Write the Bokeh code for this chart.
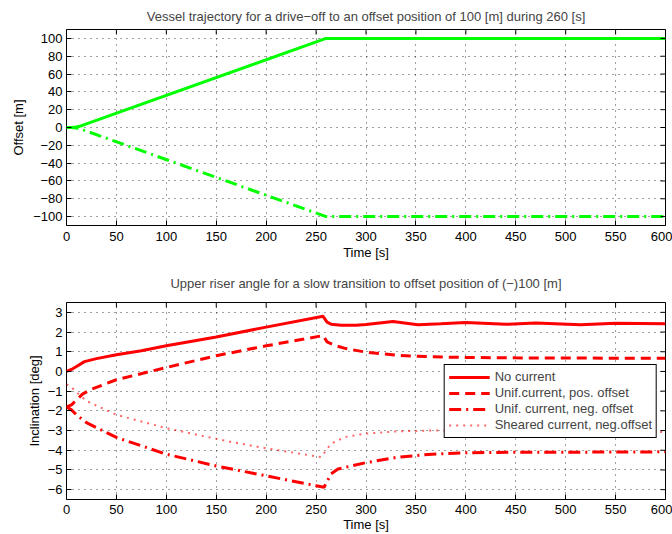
import math
from bokeh.plotting import figure
from bokeh.layouts import column
from bokeh.models import Range1d, FixedTicker
from bokeh.embed import file_html
from bokeh.resources import INLINE

# ---------------- data ----------------
# top: vessel trajectory
traj_t = [0, 5, 10, 15, 20, 260, 600]
traj_pos = [0, 0.1, 0.5, 2, 4, 100, 100]
traj_neg = [0, -0.1, -0.6, -2, -4, -100, -100]

# bottom: upper riser angle
nc_t = [0, 5, 10, 18, 30, 50, 75, 100, 150, 200, 257, 261, 265, 275, 290, 300, 327, 352,
        375, 400, 440, 470, 515, 550, 600]
nc_v = [0.0, 0.1, 0.25, 0.5, 0.65, 0.85, 1.05, 1.3, 1.75, 2.25, 2.8, 2.5, 2.4, 2.34, 2.35,
        2.38, 2.53, 2.37, 2.42, 2.48, 2.39, 2.46, 2.37, 2.45, 2.42]

pos_t = [0, 5, 10, 16, 25, 50, 100, 150, 200, 257, 261, 270, 280, 300, 332, 350, 380, 400,
         450, 500, 600]
pos_v = [-1.8, -1.7, -1.45, -1.15, -0.9, -0.42, 0.2, 0.8, 1.3, 1.82, 1.5, 1.3, 1.16, 0.98,
         0.82, 0.77, 0.73, 0.71, 0.69, 0.68, 0.67]

neg_t = [0, 5, 10, 20, 50, 100, 150, 200, 250, 258, 265, 272, 300, 332, 366, 400, 450, 500, 600]
neg_v = [-1.8, -1.95, -2.2, -2.6, -3.35, -4.2, -4.8, -5.3, -5.8, -5.88, -5.2, -4.95, -4.63,
         -4.35, -4.2, -4.13, -4.1, -4.1, -4.08]

sh_t = [0, 5, 10, 20, 50, 100, 165, 200, 255, 265, 279, 299, 332, 366, 400, 450, 500, 600]
sh_v = [-0.65, -0.8, -1.05, -1.5, -2.2, -2.88, -3.58, -3.9, -4.35, -3.67, -3.33, -3.16, -3.04,
        -3.0, -3.0, -3.02, -3.05, -3.07]

x_ticks = [0, 50, 100, 150, 200, 250, 300, 350, 400, 450, 500, 550, 600]
top_y_ticks = [-100, -80, -60, -40, -20, 0, 20, 40, 60, 80, 100]
bot_y_ticks = [-6, -5, -4, -3, -2, -1, 0, 1, 2, 3]
x_lim = (0, 600)
top_y_lim = (-110, 110)
bot_y_lim = (-6.5, 3.5)

top_title = "Vessel trajectory for a drive\u2212off to an offset position of 100 [m] during 260 [s]"
bot_title = "Upper riser angle for a slow transition to offset position of (\u2212)100 [m]"

FONT = "Liberation Sans"
FS = "13px"


def fmt(v):
    return str(v).replace("-", "\u2212")


def style(p, yticks, ylim, ylabel, title_standoff, ylabel_standoff, xl_standoff, xa_standoff):
    p.title.text_font = FONT
    p.title.text_font_size = FS
    p.title.text_font_style = "normal"
    p.title.align = "center"
    p.title.standoff = title_standoff
    p.outline_line_color = "black"
    p.outline_line_width = 1
    p.outline_line_alpha = 1
    p.background_fill_color = "white"
    p.border_fill_color = "white"

    xa = p.xaxis[0]
    ya = p.yaxis[0]
    xa.ticker = FixedTicker(ticks=x_ticks)
    ya.ticker = FixedTicker(ticks=yticks)
    xa.major_label_overrides = {v: fmt(v) for v in x_ticks}
    ya.major_label_overrides = {v: fmt(v) for v in yticks}
    xa.axis_label = "Time [s]"
    ya.axis_label = ylabel
    for ax in (xa, ya):
        ax.axis_line_color = None
        ax.major_tick_in = 5
        ax.major_tick_out = 0
        ax.major_tick_line_color = "black"
        ax.minor_tick_line_color = None
        ax.major_label_text_font = FONT
        ax.major_label_text_font_size = FS
        ax.major_label_text_color = "black"
        ax.axis_label_text_font = FONT
        ax.axis_label_text_font_size = FS
        ax.axis_label_text_font_style = "normal"
        ax.axis_label_text_color = "black"
    xa.major_label_standoff = xl_standoff
    xa.axis_label_standoff = xa_standoff
    ya.major_label_standoff = 4
    ya.axis_label_standoff = ylabel_standoff

    # inward tick marks on the top and right edges of the box
    p.scatter(x_ticks, [ylim[1]] * len(x_ticks), marker="dash", size=10, angle=math.pi / 2,
              line_color="black", line_width=1)
    p.scatter([x_lim[1]] * len(yticks), yticks, marker="dash", size=10,
              line_color="black", line_width=1)

    p.xgrid.ticker = FixedTicker(ticks=x_ticks)
    p.ygrid.ticker = FixedTicker(ticks=yticks)
    for g in (p.xgrid, p.ygrid):
        g.grid_line_color = "black"
        g.grid_line_alpha = 0.75
        g.grid_line_dash = "1 5"
        g.grid_line_width = 1


p1 = figure(width=672, height=262, output_backend="svg", toolbar_location=None,
            x_range=Range1d(*x_lim), y_range=Range1d(*top_y_lim), title=top_title,
            min_border_left=66, min_border_right=7, min_border_top=29, min_border_bottom=36)
p1.line(traj_t, traj_pos, color="#00ff00", line_width=3)
p1.line(traj_t, traj_neg, color="#00ff00", line_width=3, line_dash="12 5 2 5")
style(p1, top_y_ticks, top_y_lim, "Offset [m]", 12, 4, 6, 1)

p2 = figure(width=672, height=272, output_backend="svg", toolbar_location=None,
            x_range=Range1d(*x_lim), y_range=Range1d(*bot_y_lim), title=bot_title,
            min_border_left=66, min_border_right=7, min_border_top=40, min_border_bottom=35)
p2.line(nc_t, nc_v, color="red", line_width=3, legend_label="No current")
p2.line(pos_t, pos_v, color="red", line_width=3, line_dash="10 6",
        legend_label="Unif.current, pos. offset")
p2.line(neg_t, neg_v, color="red", line_width=3, line_dash="12 5 2 5",
        legend_label="Unif. current, neg. offset")
p2.line(sh_t, sh_v, color="red", line_width=2, line_dash="2 5", line_alpha=0.6,
        legend_label="Sheared current, neg.offset")
style(p2, bot_y_ticks, bot_y_lim, "Inclination [deg]", 23, 3, 5, 0)

lg = p2.legend[0]
lg.location = "right"
lg.margin = 8
lg.padding = 4
lg.spacing = 0
lg.label_height = 16
lg.glyph_height = 16
lg.glyph_width = 41
lg.label_standoff = 5
lg.label_text_font = FONT
lg.label_text_font_size = FS
lg.border_line_color = "black"
lg.border_line_width = 1
lg.border_line_alpha = 1
lg.background_fill_color = "white"
lg.background_fill_alpha = 1

layout = column(p1, p2, spacing=0)
open("out.html", "w").write(file_html(layout, INLINE))
